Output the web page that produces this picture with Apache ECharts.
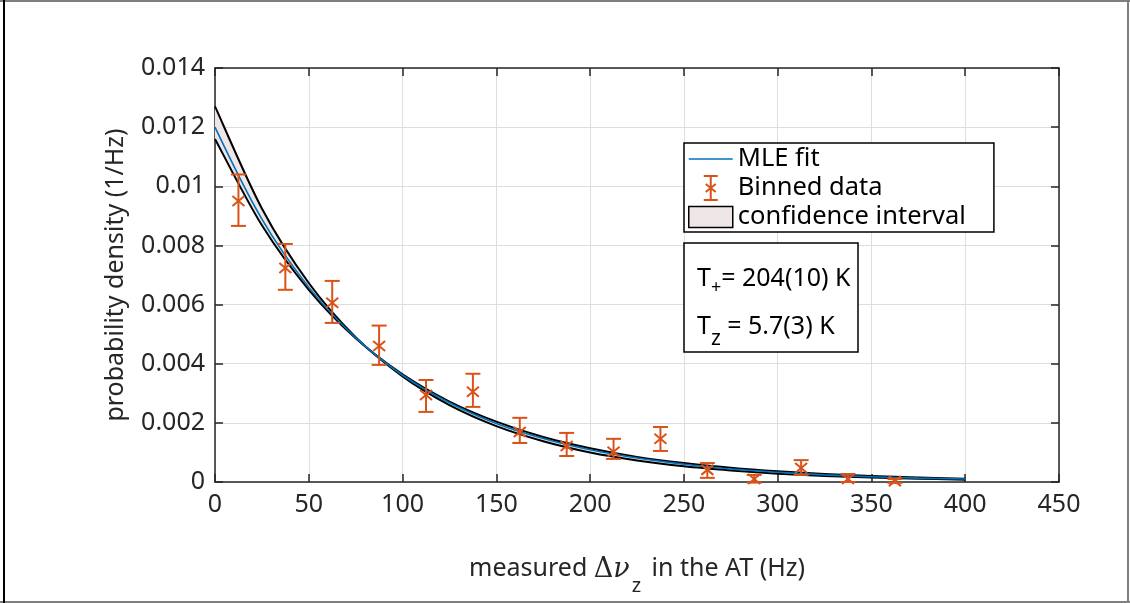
<!DOCTYPE html>
<html><head><meta charset="utf-8">
<script src="https://cdn.jsdelivr.net/npm/echarts@6/dist/echarts.min.js"></script>
<style>html,body{margin:0;padding:0;background:#fff}#c{width:1130px;height:603px}</style>
</head><body><div id="c"></div>
<script>
// ---- data ----
const binCenters = [12.5, 37.5, 62.5, 87.5, 112.5, 137.5, 162.5, 187.5, 212.5, 237.5, 262.5, 287.5, 312.5, 337.5, 362.5];
const binValues  = [0.0095, 0.00724, 0.00606, 0.0046, 0.00294, 0.00305, 0.00169, 0.00122, 0.00102, 0.00146, 0.00041, 0.0001, 0.00047, 0.0001, 0.00003];
const binLow     = [0.00866, 0.0065, 0.00538, 0.00396, 0.00237, 0.00254, 0.00132, 0.00088, 0.00078, 0.00105, 0.00014, -0.00002, 0.00024, 0.0, -0.00003];
const binHigh    = [0.0104, 0.00805, 0.0068, 0.00529, 0.00345, 0.00366, 0.00217, 0.00166, 0.00146, 0.00186, 0.00064, 0.00024, 0.00074, 0.00027, 0.0001];

const curveX  = [0, 25, 50, 75, 100, 125, 150, 175, 200, 225, 250, 275, 300, 325, 350, 375, 400];
const fitY    = [0.0120, 0.00889, 0.00659, 0.00488, 0.00361, 0.00268, 0.00198, 0.00147, 0.00109, 0.00081, 0.00060, 0.00044, 0.00033, 0.00024, 0.00018, 0.00013, 0.00010];
const ciUpper = [0.0127, 0.00925, 0.00673, 0.00490, 0.00357, 0.00260, 0.00189, 0.00138, 0.00100, 0.00073, 0.00053, 0.00039, 0.00028, 0.00020, 0.00015, 0.00011, 0.00008];
const ciLower = [0.0116, 0.00868, 0.00650, 0.00486, 0.00364, 0.00272, 0.00204, 0.00152, 0.00114, 0.00085, 0.00064, 0.00048, 0.00036, 0.00027, 0.00020, 0.00015, 0.00011];

const xTickValues = [0, 50, 100, 150, 200, 250, 300, 350, 400, 450];
const yTickLabels = ['0', '0.002', '0.004', '0.006', '0.008', '0.01', '0.012', '0.014'];

// ---- build ----
const FONT = 'Noto Sans';
const TXT = '#262626';
const ORANGE = '#D95319';
const BLUE = '#0072BD';
const FILL = '#efe7e7';
const FS = 25;

const pair = (xs, ys) => xs.map((x, i) => [x, ys[i]]);
const errData = binCenters.map((x, i) => [x, binValues[i], binLow[i], binHigh[i]]);

// Catmull-Rom through pixel points -> cubic bezier path data
function crPath(pts, cmd) {
  let d = cmd + pts[0][0] + ',' + pts[0][1];
  for (let i = 0; i < pts.length - 1; i++) {
    const p0 = pts[Math.max(i - 1, 0)], p1 = pts[i], p2 = pts[i + 1], p3 = pts[Math.min(i + 2, pts.length - 1)];
    const c1x = p1[0] + (p2[0] - p0[0]) / 6, c1y = p1[1] + (p2[1] - p0[1]) / 6;
    const c2x = p2[0] - (p3[0] - p1[0]) / 6, c2y = p2[1] - (p3[1] - p1[1]) / 6;
    d += 'C' + c1x + ',' + c1y + ',' + c2x + ',' + c2y + ',' + p2[0] + ',' + p2[1];
  }
  return d;
}

const chart = echarts.init(document.getElementById('c'));
const axisLineStyle = {color: TXT, width: 1.5};

chart.setOption({
  animation: false,
  backgroundColor: '#fff',
  textStyle: {fontFamily: FONT},
  grid: {left: 215, right: 71, top: 68, bottom: 121, containLabel: false},
  xAxis: [{
    type: 'value', min: 0, max: 450, interval: 50, position: 'bottom',
    axisLine: {show: true, onZero: false, lineStyle: axisLineStyle},
    axisTick: {show: true, inside: true, length: 8, lineStyle: axisLineStyle},
    axisLabel: {color: TXT, fontSize: FS, fontFamily: FONT, margin: 10},
    splitLine: {show: true, lineStyle: {color: '#dedede', width: 1}},
    name: '{a|measured }{d|Δ}{nu|ν}{z|z}{a| in the AT (Hz)}',
    nameLocation: 'middle', nameGap: 74,
    nameTextStyle: {
      color: TXT,
      rich: {
        a: {fontSize: FS, fontFamily: FONT, color: TXT, lineHeight: 25, verticalAlign: 'top'},
        d: {fontSize: 27, fontFamily: 'DejaVu Serif', color: TXT, lineHeight: 25, verticalAlign: 'top'},
        nu: {fontSize: 27, fontFamily: 'DejaVu Serif', fontStyle: 'italic', color: TXT, lineHeight: 25, verticalAlign: 'top'},
        z: {fontSize: 20, fontFamily: FONT, color: TXT, lineHeight: 40, verticalAlign: 'bottom', padding: [0, 4, 0, 2]}
      }
    }
  }, {
    type: 'value', min: 0, max: 450, interval: 50, position: 'top',
    axisLine: {show: true, onZero: false, lineStyle: axisLineStyle},
    axisTick: {show: true, inside: true, length: 8, lineStyle: axisLineStyle},
    axisLabel: {show: false}, splitLine: {show: false}
  }],
  yAxis: [{
    type: 'value', min: 0, max: 0.014, interval: 0.002, position: 'left',
    axisLine: {show: true, onZero: false, lineStyle: axisLineStyle},
    axisTick: {show: true, inside: true, length: 8, lineStyle: axisLineStyle},
    axisLabel: {color: TXT, fontSize: FS, fontFamily: FONT, margin: 10,
      formatter: v => yTickLabels[Math.round(v / 0.002)]},
    splitLine: {show: true, lineStyle: {color: '#dedede', width: 1}},
    name: 'probability density (1/Hz)', nameLocation: 'middle', nameGap: 87,
    nameTextStyle: {color: TXT, fontSize: FS, fontFamily: FONT}
  }, {
    type: 'value', min: 0, max: 0.014, interval: 0.002, position: 'right',
    axisLine: {show: true, onZero: false, lineStyle: axisLineStyle},
    axisTick: {show: true, inside: true, length: 8, lineStyle: axisLineStyle},
    axisLabel: {show: false}, splitLine: {show: false}
  }],
  legend: {
    left: 684, top: 143, orient: 'vertical',
    padding: [3, 28, 2, 4], itemGap: 1.5, itemWidth: 44, itemHeight: 24, itemTextGap: 12,
    backgroundColor: '#fff', borderColor: '#000', borderWidth: 1.5, borderRadius: 0,
    textStyle: {color: '#000', fontSize: 25.5, fontFamily: FONT},
    selectedMode: false,
    data: [
      {name: 'MLE fit', icon: 'path://M0,0L44,0L44,1.6L0,1.6Z',
        itemStyle: {color: BLUE, borderWidth: 0}},
      {name: 'Binned data', icon: 'path://M0,0L14,0M7,0L7,24M0,24L14,24M2,8L12,16M12,8L2,16',
        itemStyle: {color: 'none', borderColor: ORANGE, borderWidth: 2}},
      {name: 'confidence interval', icon: 'path://M0,0L44,0L44,21L0,21Z',
        itemStyle: {color: FILL, borderColor: '#000', borderWidth: 1.5}}
    ]
  },
  series: [
    {name: 'confidence interval', type: 'custom', data: [[0, 0]], encode: {x: 0, y: 1},
      itemStyle: {color: FILL}, silent: true, z: 1,
      renderItem: (params, api) => {
        const up = curveX.map((x, i) => api.coord([x, ciUpper[i]]));
        const lo = curveX.map((x, i) => api.coord([x, ciLower[i]]));
        const upD = crPath(up, 'M');
        const loD = crPath(lo, 'M');
        const fillD = upD + crPath(lo.slice().reverse(), 'L') + 'Z';
        return {type: 'group', children: [
          {type: 'path', shape: {pathData: fillD}, style: {fill: FILL, stroke: null}},
          {type: 'path', shape: {pathData: upD}, style: {fill: null, stroke: '#000', lineWidth: 2}},
          {type: 'path', shape: {pathData: loD}, style: {fill: null, stroke: '#000', lineWidth: 2}}
        ]};
      }},
    {name: 'MLE fit', type: 'line', data: pair(curveX, fitY), smooth: 0.33, symbol: 'none',
      itemStyle: {color: BLUE}, lineStyle: {color: BLUE, width: 1.6}, z: 3},
    {name: 'Binned data', type: 'custom', data: errData, itemStyle: {color: ORANGE}, z: 4,
      encode: {x: 0, y: [1, 2, 3]},
      renderItem: (params, api) => {
        const x = api.value(0);
        const pc = api.coord([x, api.value(1)]);
        const pl = api.coord([x, api.value(2)]);
        const ph = api.coord([x, api.value(3)]);
        const cw = 7.5, m = 6, mh = 5;
        const st = {stroke: ORANGE, lineWidth: 2, fill: null};
        const ln = (x1, y1, x2, y2) => ({type: 'line', shape: {x1, y1, x2, y2}, style: st});
        return {type: 'group', children: [
          ln(pc[0], pl[1], pc[0], ph[1]),
          ln(pc[0] - cw, ph[1], pc[0] + cw, ph[1]),
          ln(pc[0] - cw, pl[1], pc[0] + cw, pl[1]),
          ln(pc[0] - m, pc[1] - mh, pc[0] + m, pc[1] + mh),
          ln(pc[0] + m, pc[1] - mh, pc[0] - m, pc[1] + mh)
        ]};
      }}
  ],
  graphic: [
    {type: 'line', shape: {x1: 0, y1: 1, x2: 1130, y2: 1}, style: {stroke: '#7f7f7f', lineWidth: 2}, z: 100},
    {type: 'line', shape: {x1: 0, y1: 602, x2: 1130, y2: 602}, style: {stroke: '#7f7f7f', lineWidth: 2}, z: 100},
    {type: 'line', shape: {x1: 4, y1: 0, x2: 4, y2: 603}, style: {stroke: '#000', lineWidth: 2}, z: 100},
    {type: 'line', shape: {x1: 1128, y1: 0, x2: 1128, y2: 603}, style: {stroke: '#7f7f7f', lineWidth: 2}, z: 100},
    {type: 'rect', shape: {x: 684, y: 243, width: 174, height: 109},
      style: {fill: '#fff', stroke: '#000', lineWidth: 1.5}, z: 50},
    {type: 'text', x: 697, y: 266, z: 51,
      style: {text: '{t|T}{s|+}{t|= 204(10) K}', verticalAlign: 'top', align: 'left',
        rich: {t: {fontSize: FS, fontFamily: FONT, fill: '#000', lineHeight: 25, verticalAlign: 'top'},
               s: {fontSize: 18, fontFamily: FONT, fill: '#000', lineHeight: 31, verticalAlign: 'bottom'}}}},
    {type: 'text', x: 697, y: 314, z: 51,
      style: {text: '{t|T}{s|z}{t| = 5.7(3) K}', verticalAlign: 'top', align: 'left',
        rich: {t: {fontSize: FS, fontFamily: FONT, fill: '#000', lineHeight: 25, verticalAlign: 'top'},
               s: {fontSize: 21, fontFamily: FONT, fill: '#000', lineHeight: 36, verticalAlign: 'bottom'}}}}
  ]
});
</script>
</body></html>
